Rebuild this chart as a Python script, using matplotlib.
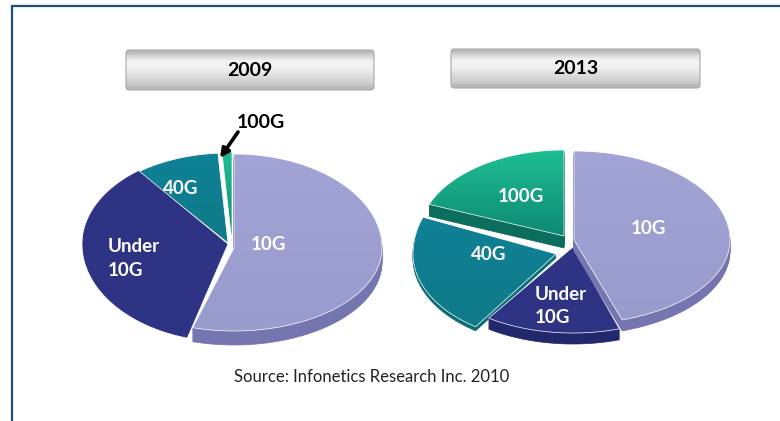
import numpy as np
from matplotlib import pyplot as plt
from matplotlib.patches import FancyBboxPatch, Polygon

# shares in percent, clockwise from 12 o'clock
names = ["10G", "Under\n10G", "40G", "100G"]
shares_2009 = [54.5, 35.0, 9.4, 1.1]
shares_2013 = [45.0, 14.5, 21.5, 19.0]
years = ["2009", "2013"]
source = "Source: Infonetics Research Inc. 2010"

colors_top = ["#a3a4d6", "#2e3384", "#0f8196", "#1fbd93"]
colors_bot = ["#9a9bcd", "#2e3384", "#0f7a88", "#0d8a72"]
colors_side = ["#7575b0", "#23276c", "#0c6c78", "#0b6d5c"]

plt.rcParams['font.family'] = ['Lato', 'DejaVu Sans']

fig = plt.figure(figsize=(7.8, 4.21), dpi=100)
ax = fig.add_axes([0, 0, 1, 1])
ax.set_xlim(0, 780)
ax.set_ylim(421, 0)
ax.axis("off")


def slice_points(a0, a1, cx, cy, rx, ry_up, ry_down):
    # a0, a1 are degrees clockwise from the top
    t = np.radians(np.linspace(a0, a1, 120))
    x = cx + rx * np.sin(t)
    c = np.cos(t)
    y = cy - np.where(c > 0, ry_up, ry_down) * c
    return np.vstack([[cx, cy], np.column_stack([x, y])])


def gradient(patch, c0, c1, y0, y1, x0, x1):
    c0 = np.array(plt.matplotlib.colors.to_rgb(c0))
    c1 = np.array(plt.matplotlib.colors.to_rgb(c1))
    f = np.linspace(0, 1, 64)[:, None, None]
    img = c0[None, None, :] * (1 - f) + c1[None, None, :] * f
    im = ax.imshow(img, extent=[x0, x1, y1, y0], aspect="auto", zorder=patch.get_zorder())
    im.set_clip_path(patch)


def draw_pie(shares, layout, depth):
    angles = np.concatenate([[0], np.cumsum(shares) * 3.6])
    order = layout["order"]
    for i in order:
        cx, cy, rx, up, down = layout["geom"][i]
        pts = slice_points(angles[i], angles[i + 1], cx, cy, rx, up, down)
        for d in range(depth[i], 0, -1):
            ax.add_patch(Polygon(pts + [0, d], closed=True, fc=colors_side[i], ec=colors_side[i], lw=0.5, zorder=2 + order.index(i)))
        top = Polygon(pts, closed=True, fc="none", ec="none", zorder=2.5 + order.index(i))
        ax.add_patch(top)
        gradient(top, colors_top[i], colors_bot[i], pts[:, 1].min(), pts[:, 1].max(), pts[:, 0].min(), pts[:, 0].max())
        ax.add_patch(Polygon(pts, closed=True, fc="none", ec="white", lw=layout["edge"], zorder=2.6 + order.index(i)))


layout_2009 = {
    "order": [2, 3, 1, 0],
    "edge": 0.5,
    "geom": [(234, 248, 148, 94, 83), (228, 244, 146, 93, 98), (228, 243, 146, 90, 90), (232, 243, 146, 91, 90)],
}
layout_2013 = {
    "order": [3, 2, 1, 0],
    "edge": 0.5,
    "geom": [(574, 240, 156, 89, 84), (573, 247, 150, 90, 86), (556, 254, 143, 100, 88), (564, 236, 145, 86, 80)],
}
draw_pie(shares_2009, layout_2009, [14, 0, 0, 0])
draw_pie(shares_2013, layout_2013, [11, 11, 4, 12])

# year buttons
for (x0, x1, y0, y1), year in zip([(126, 374, 50, 90), (451, 700, 49, 88)], years):
    box = FancyBboxPatch((x0 + 3, y0 + 3), x1 - x0 - 6, y1 - y0 - 6, boxstyle="round,pad=3", fc="none", ec="#a8a8a8", lw=0.8, zorder=3)
    ax.add_patch(box)
    f = np.array([0.72, 0.85, 0.95, 0.95, 0.93, 0.88, 0.84, 0.8, 0.72])[:, None]
    im = ax.imshow(f, cmap="gray", vmin=0, vmax=1, extent=[x0, x1, y1, y0], aspect="auto", interpolation="bilinear", zorder=2)
    im.set_clip_path(box)
    ax.text((x0 + x1) / 2, (y0 + y1) / 2 + 0.5, year, ha="center", va="center", fontsize=14, fontweight="bold", color="black", zorder=4)

# slice labels
white = dict(color="white", fontweight="bold", fontsize=13.5, zorder=10, va="center")
ax.text(268, 244, names[0], ha="center", **white)
ax.text(108, 258, names[1], ha="left", linespacing=1.5, **white)
ax.text(181, 189, names[2], ha="center", **white)
ax.text(648, 228, names[0], ha="center", **white)
ax.text(535, 306, names[1], ha="left", linespacing=1.38, **white)
ax.text(489, 255, names[2], ha="center", **white)
ax.text(521, 196, names[3], ha="center", **white)

ax.text(261, 122, names[3], ha="center", va="center", fontsize=14, fontweight="bold", color="black", zorder=10)
ax.annotate("", xy=(220, 158), xytext=(238, 132), zorder=10,
            arrowprops=dict(arrowstyle="-|>", color="black", lw=2.6, shrinkA=0, shrinkB=0, mutation_scale=13))

ax.text(372, 377, source, ha="center", va="center", fontsize=12, color="#222222")

# frame, no line on the right side
ax.plot([11.5, 11.5, 780], [421, 5.5, 5.5], color="#1f4e79", lw=1.6, solid_joinstyle="miter", zorder=1)

ax.set_xlim(0, 780)
ax.set_ylim(421, 0)
fig.savefig("out.png", dpi=100)
